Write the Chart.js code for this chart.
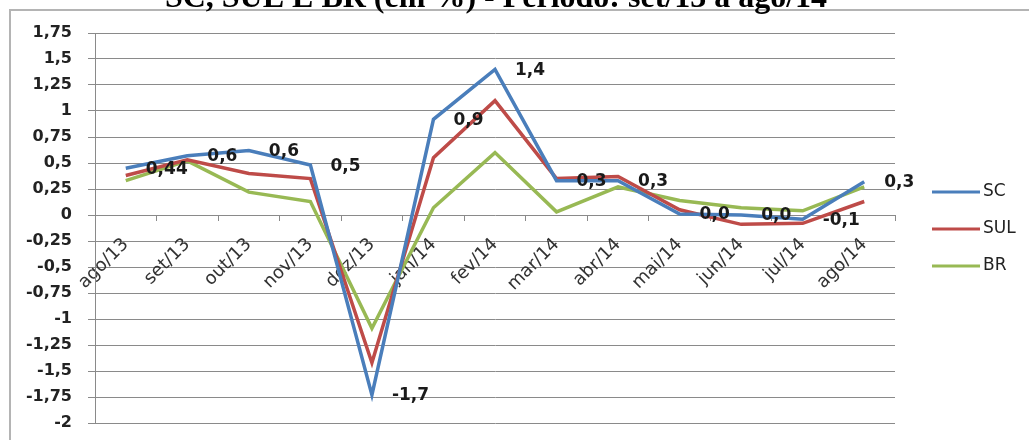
<!DOCTYPE html>
<html><head><meta charset="utf-8">
<script src="https://cdn.jsdelivr.net/npm/chart.js@4"></script>
<style>html,body{margin:0;padding:0;background:#fff;overflow:hidden}#wrap{width:1029px;height:440px;position:relative}</style>
</head><body><div id="wrap"><canvas id="c" width="1029" height="440"></canvas></div>
<script>
const categories = ['ago/13','set/13','out/13','nov/13','dez/13','jan/14','fev/14','mar/14','abr/14','mai/14','jun/14','jul/14','ago/14'];
const scValues  = [0.45, 0.57, 0.62, 0.48, -1.73, 0.92, 1.40, 0.33, 0.33, 0.01, 0.00, -0.04, 0.32];
const sulValues = [0.38, 0.53, 0.40, 0.35, -1.42, 0.55, 1.10, 0.35, 0.37, 0.05, -0.09, -0.08, 0.13];
const brValues  = [0.33, 0.52, 0.22, 0.13, -1.09, 0.07, 0.60, 0.03, 0.27, 0.14, 0.07, 0.04, 0.27];
const scLabels  = ['0,44','0,6','0,6','0,5','-1,7','0,9','1,4','0,3','0,3','0,0','0,0','-0,1','0,3'];
const seriesNames = ['SC','SUL','BR'];
const seriesColors = ['#4A7EBB','#BE4B48','#98B954'];
const yMin = -2, yMax = 1.75, yStep = 0.25;
const titleText = 'SC, SUL E BR (em %) - Período: set/13 a ago/14';

const fmt = v => String(Math.round(v*100)/100).replace('.', ',');

const framePlugin = {
  id: 'frame',
  beforeDraw(chart) {
    const ctx = chart.ctx;
    ctx.save();
    ctx.fillStyle = '#fff';
    ctx.fillRect(0, 0, chart.width, chart.height);
    ctx.strokeStyle = '#b4b4b4';
    ctx.lineWidth = 2;
    ctx.beginPath();
    ctx.moveTo(10, 460); ctx.lineTo(10, 10); ctx.lineTo(1060, 10);
    ctx.stroke();
    ctx.fillStyle = '#000';
    ctx.font = 'bold 32px "Liberation Serif"';
    ctx.textAlign = 'center';
    ctx.textBaseline = 'alphabetic';
    ctx.fillText(titleText, 496, 7);
    ctx.restore();
  }
};

const labelPlugin = {
  id: 'sclabels',
  afterDatasetsDraw(chart) {
    const ctx = chart.ctx;
    const meta = chart.getDatasetMeta(0);
    ctx.save();
    ctx.font = 'bold 17px "DejaVu Sans"';
    ctx.fillStyle = '#1a1a1a';
    ctx.textAlign = 'left';
    ctx.textBaseline = 'middle';
    meta.data.forEach((pt, i) => {
      ctx.fillText(scLabels[i], pt.x + 20, pt.y + 1);
    });
    ctx.restore();
  }
};

const legendPlugin = {
  id: 'customLegend',
  afterDraw(chart) {
    const ctx = chart.ctx;
    ctx.save();
    ctx.font = '17px "DejaVu Sans"';
    ctx.textAlign = 'left';
    ctx.textBaseline = 'middle';
    chart.data.datasets.forEach((ds, i) => {
      const y = 192 + i * 37;
      ctx.strokeStyle = ds.borderColor;
      ctx.lineWidth = 3;
      ctx.beginPath();
      ctx.moveTo(932, y); ctx.lineTo(980, y);
      ctx.stroke();
      ctx.fillStyle = '#222';
      ctx.fillText(ds.label, 983, y);
    });
    ctx.restore();
  }
};

const mk = (name, data, color) => ({
  label: name, data, borderColor: color, backgroundColor: color,
  borderWidth: 3.5, pointRadius: 0, tension: 0, fill: false
});

new Chart(document.getElementById('c'), {
  type: 'line',
  data: {
    labels: categories,
    datasets: [
      mk(seriesNames[0], scValues, seriesColors[0]),
      mk(seriesNames[1], sulValues, seriesColors[1]),
      mk(seriesNames[2], brValues, seriesColors[2])
    ]
  },
  options: {
    responsive: false,
    animation: false,
    devicePixelRatio: 1,
    layout: { padding: { left: 10, top: 33, right: 134, bottom: 17 } },
    plugins: { legend: { display: false }, tooltip: { enabled: false }, title: { display: false } },
    scales: {
      x: {
        type: 'category',
        position: { y: 0 },
        offset: true,
        grid: { offset: true, drawOnChartArea: false, drawTicks: true, tickLength: 6, color: '#8a8a8a' },
        border: { display: false },
        ticks: {
          autoSkip: false, minRotation: 45, maxRotation: 45, padding: 13,
          color: '#333', font: { family: 'DejaVu Sans', size: 18 }
        }
      },
      y: {
        min: yMin, max: yMax,
        afterFit(scale) { scale.width = 85; scale.paddingTop = 0; scale.paddingBottom = 0; },
        grid: { color: '#8a8a8a', lineWidth: 1, tickLength: 7, drawTicks: true },
        border: { display: true, color: '#8a8a8a', width: 1 },
        ticks: {
          stepSize: yStep, autoSkip: false, padding: 16,
          color: '#222', font: { family: 'DejaVu Sans', size: 16, weight: 'bold' },
          callback: v => fmt(v)
        }
      }
    }
  },
  plugins: [framePlugin, labelPlugin, legendPlugin]
});
</script>
</body></html>
